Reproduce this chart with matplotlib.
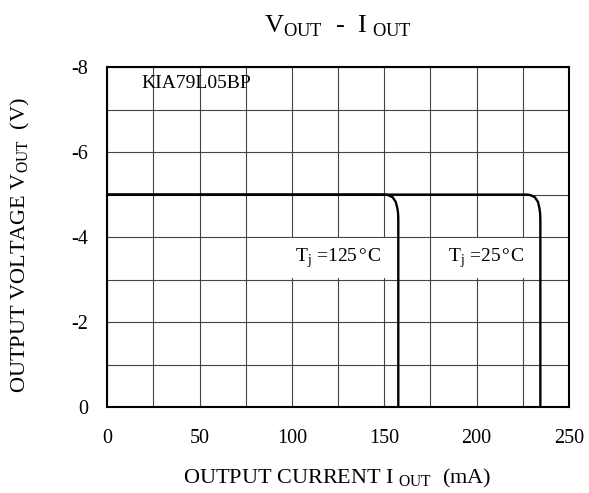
import numpy as np
import matplotlib.pyplot as plt
from matplotlib.patches import Rectangle

plt.rcParams['font.family'] = ['Liberation Serif', 'DejaVu Serif']
plt.rcParams['mathtext.fontset'] = 'custom'
plt.rcParams['mathtext.rm'] = 'Liberation Serif'
plt.rcParams['axes.unicode_minus'] = False

# curve data (mA, V)
i_125 = [0, 150, 152, 154.5, 156.2, 157.1, 157.5, 157.6, 157.6]
v_125 = [-5, -5, -4.99, -4.94, -4.83, -4.68, -4.55, -4.4, 0]
i_25 = [0, 227, 229, 231.5, 233.2, 234.0, 234.4, 234.5, 234.5]
v_25 = [-5, -5, -4.99, -4.94, -4.83, -4.68, -4.55, -4.4, 0]

x_ticks = [0, 50, 100, 150, 200, 250]
y_ticks = [-8, -6, -4, -2, 0]

fig = plt.figure(figsize=(5.89, 4.93), dpi=100)
ax = fig.add_axes([0.182, 0.174, 0.784, 0.690])
ax.set_axisbelow(True)

ax.plot(i_125, v_125, color='black', lw=1.7, zorder=3)
ax.plot(i_25, v_25, color='black', lw=1.7, zorder=3)

ax.set_xlim(0, 250)
ax.set_ylim(0, -8)
ax.set_xticks(x_ticks)
ax.set_yticks(y_ticks)
ax.set_xticks(np.arange(0, 251, 25), minor=True)
ax.set_yticks(np.arange(-8, 1, 1), minor=True)
ax.grid(which='both', color='#444444', lw=0.8)
ax.tick_params(which='both', length=0, labelsize=14.5)
ax.tick_params(axis='x', pad=16)
ax.tick_params(axis='y', pad=14)
for s in ax.spines.values():
    s.set_linewidth(1.5)

# white label boxes hiding the grid behind the temperature labels
ax.add_patch(Rectangle((77, -3.97), 80, 0.94, facecolor='white', edgecolor='none', zorder=1))
ax.add_patch(Rectangle((176.5, -3.97), 57.5, 0.94, facecolor='white', edgecolor='none', zorder=1))

ax.text(48, -7.62, 'KIA79L05BP', fontsize=14, ha='center', va='center')
ax.text(125.3, -3.5, 'T$_\\mathrm{j}$ =125\u200a°\u200aC', fontsize=14, ha='center', va='center')
ax.text(205.5, -3.5, 'T$_\\mathrm{j}$ =25\u200a°\u200aC', fontsize=14, ha='center', va='center')

fig.text(0.573, 0.947, r'V$_\mathrm{OUT}$  -  I$_\mathrm{\ OUT}$', fontsize=19,
         ha='center', va='center')
fig.text(0.573, 0.029, r'OUTPUT CURRENT I$_\mathrm{\ OUT}$  (mA)', fontsize=16,
         ha='center', va='center')
fig.text(0.034, 0.503, r'OUTPUT VOLTAGE V$_\mathrm{OUT}$  (V)', fontsize=16,
         ha='center', va='center', rotation=90)

fig.savefig('out.png', dpi=100)
